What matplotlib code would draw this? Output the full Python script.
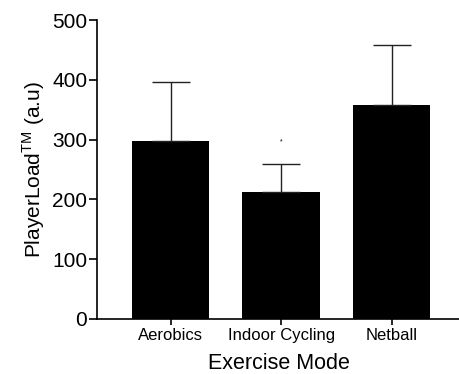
import matplotlib
matplotlib.use("Agg")
import matplotlib.pyplot as plt

plt.rcParams['font.family'] = ['Liberation Sans', 'DejaVu Sans']
plt.rcParams['mathtext.fontset'] = 'custom'
plt.rcParams['mathtext.rm'] = 'Liberation Sans'

modes = ["Aerobics", "Indoor Cycling", "Netball"]
means = [297, 213, 358]
upper_sd = [99, 47, 101]
sig_marks = ["", "*", ""]
sig_y = [0, 296, 0]

fig = plt.figure(figsize=(4.6, 3.74), dpi=100)
ax = fig.add_axes([97 / 460, 55 / 374, 363 / 460, 299 / 374])

x = list(range(len(modes)))
ax.bar(x, means, width=0.70, color="black", edgecolor="none")
ax.errorbar(x, means, yerr=[[0] * len(means), upper_sd], fmt="none",
            ecolor="#222222", elinewidth=1.0, capsize=13.7, capthick=1.0)

for xi, mark, yv in zip(x, sig_marks, sig_y):
    if mark:
        ax.text(xi, yv, mark, ha="center", va="center", fontsize=5)

ax.set_xlim(-0.667, 2.62)
ax.set_ylim(0, 500)
ax.set_yticks([0, 100, 200, 300, 400, 500])
ax.set_xticks(x)
ax.set_xticklabels(modes, fontsize=12)
ax.tick_params(axis="y", labelsize=15, length=6, width=1.2, pad=1)
ax.tick_params(axis="x", length=4.5, width=1.2, pad=2)

for side in ["top", "right"]:
    ax.spines[side].set_visible(False)
for side in ["left", "bottom"]:
    ax.spines[side].set_linewidth(1.2)

ax.set_xlabel("Exercise Mode", fontsize=15.5, labelpad=7)
ax.set_ylabel("PlayerLoad$^{\\mathrm{TM}}$ (a.u)", fontsize=15, labelpad=4)

fig.savefig("out.png", dpi=100)
